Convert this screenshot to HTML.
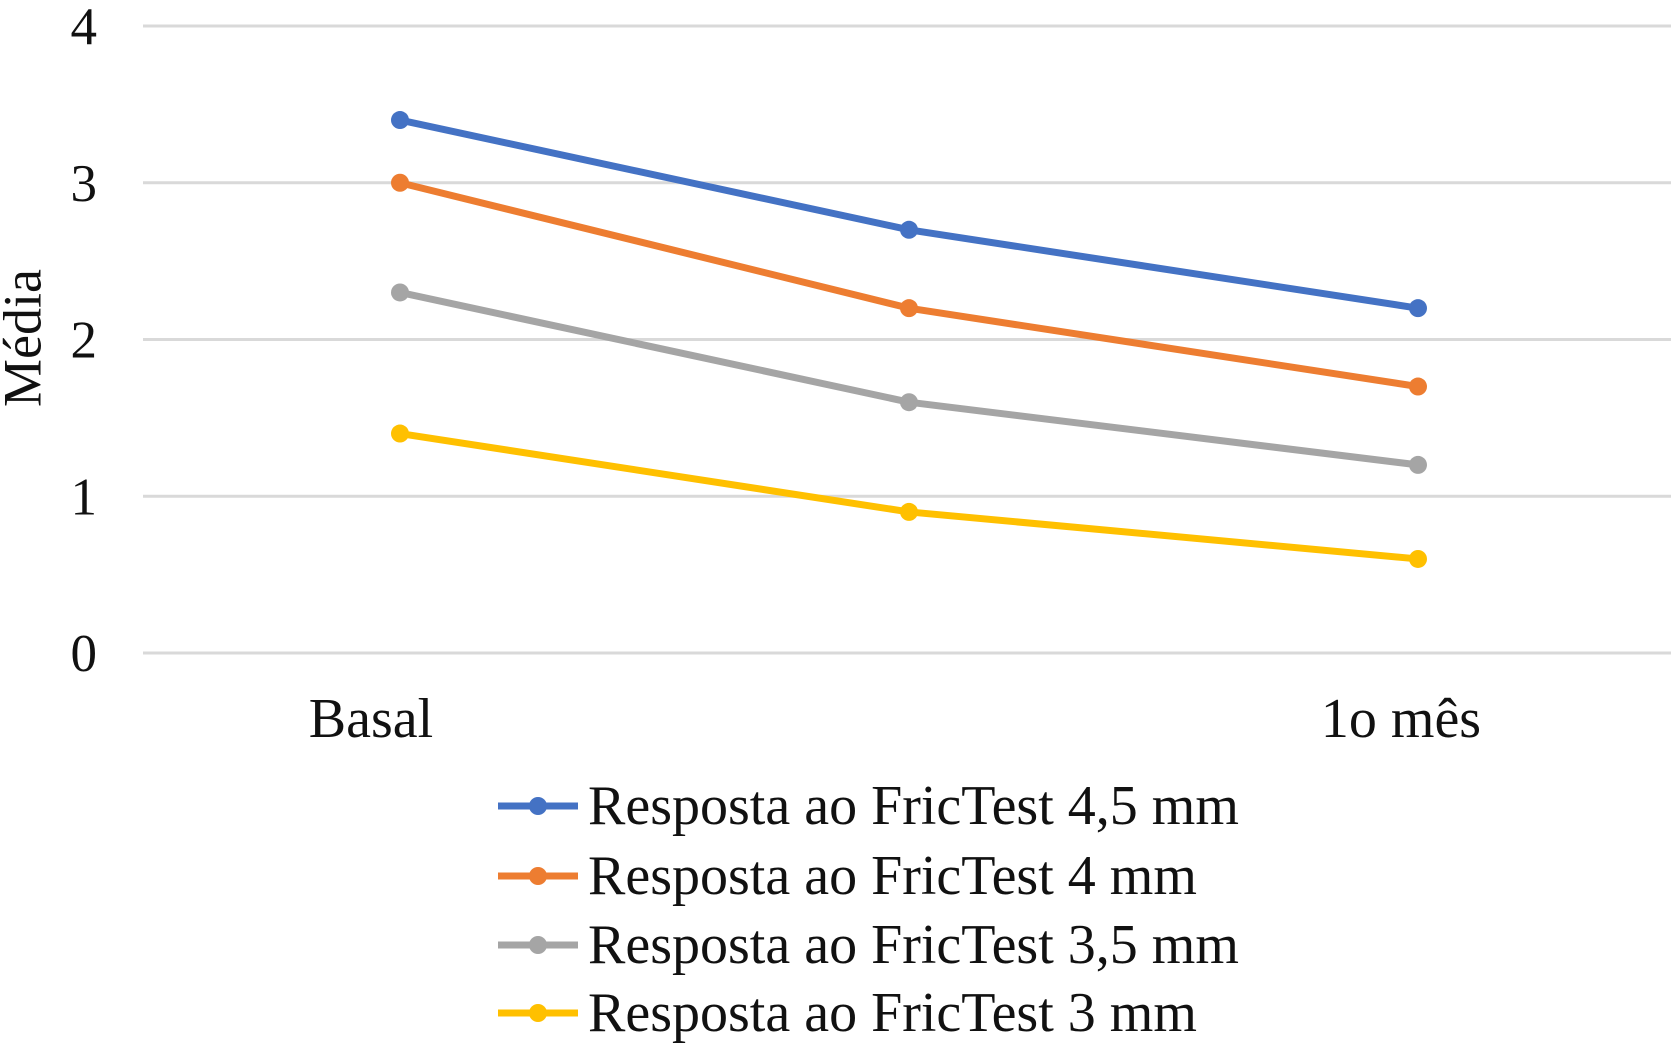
<!DOCTYPE html>
<html><head><meta charset="utf-8"><style>
html,body{margin:0;padding:0;background:#fff;}
svg{display:block;font-family:"Liberation Serif",serif;}
</style></head><body>
<svg id="chart" width="1675" height="1051" viewBox="0 0 1675 1051">
<g id="grid"></g><g id="yticks"></g><g id="xticks"></g><g id="series"></g><g id="legend"></g>
<text x="28" y="338" font-size="54" text-anchor="middle" dominant-baseline="middle" transform="rotate(-90 28 338)" fill="#111">Média</text>
</svg>
<script>
const categories = ["Basal", "", "1o mês"];
const yTicks = [0, 1, 2, 3, 4];
const seriesNames = ["Resposta ao FricTest 4,5 mm","Resposta ao FricTest 4 mm","Resposta ao FricTest 3,5 mm","Resposta ao FricTest 3 mm"];
const seriesColors = ["#4472c4","#ed7d31","#a5a5a5","#ffc000"];
const s45 = [3.4, 2.7, 2.2];
const s40 = [3.0, 2.2, 1.7];
const s35 = [2.3, 1.6, 1.2];
const s30 = [1.4, 0.9, 0.6];
const seriesValues = [s45, s40, s35, s30];

const NS = "http://www.w3.org/2000/svg";
const y0 = 653, yPer = 156.75;
function yScale(v){ return y0 - v*yPer; }
function xScale(i){ return 400 + i*509; }
function mk(tag, attrs, parent){ const e=document.createElementNS(NS,tag); for(const k in attrs) e.setAttribute(k,attrs[k]); parent.appendChild(e); return e; }

const grid=document.getElementById('grid'), yt=document.getElementById('yticks');
yTicks.forEach(v=>{
  const l=mk('line',{x1:143,x2:1671,y1:yScale(v),y2:yScale(v),stroke:'#d9d9d9','stroke-width':3},grid);
  
  
  const t=mk('text',{x:97,y:yScale(v)+18,'font-size':53,'text-anchor':'end',fill:'#111'},yt);
  t.textContent=v;
  
  
});
const xt=document.getElementById('xticks');
categories.forEach((c,i)=>{
  const t=mk('text',{x:xScale(i)-29+6*i,y:737,'font-size':56,'text-anchor':'middle',fill:'#111'},xt);
  t.textContent=c;
  
  
});
const sg=document.getElementById('series');
seriesValues.forEach((vals,si)=>{
  const g=mk('g',{},sg);
  
  
  const pts=vals.map((v,i)=>xScale(i)+','+yScale(v)).join(' ');
  const pl=mk('polyline',{points:pts,fill:'none',stroke:seriesColors[si],'stroke-width':7,'stroke-linejoin':'round'},g);
  
  
  vals.forEach((v,i)=>{
    const c=mk('circle',{cx:xScale(i),cy:yScale(v),r:9,fill:seriesColors[si]},g);
    
    
  });
});
const lg=document.getElementById('legend');
const legY=[806,876,945,1013];
seriesNames.forEach((n,i)=>{
  const g=mk('g',{},lg);
  
  
  mk('line',{x1:498,x2:578,y1:legY[i],y2:legY[i],stroke:seriesColors[i],'stroke-width':7},g);
  mk('circle',{cx:538,cy:legY[i],r:9,fill:seriesColors[i]},g);
  const t=mk('text',{x:588,y:legY[i]+18,'font-size':56,fill:'#111'},g);
  t.textContent=n;
});
</script>
</body></html>
